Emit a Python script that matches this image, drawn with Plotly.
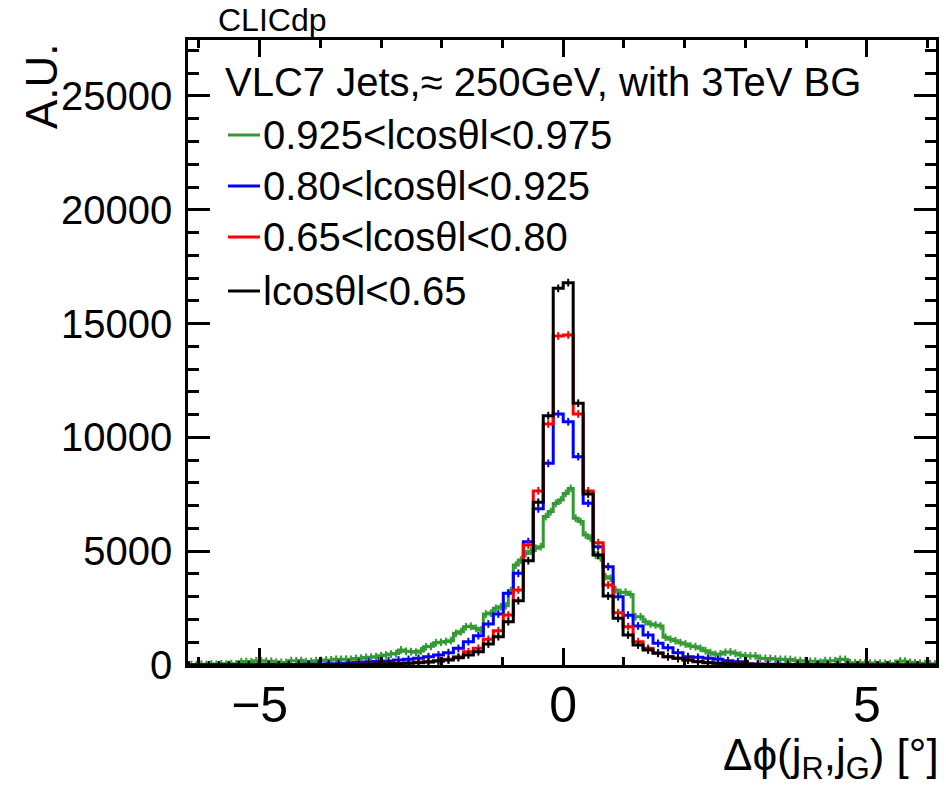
import numpy as np
import plotly.graph_objects as go

# ---------------- data ----------------
BIN_W_COARSE = 0.1644          # degrees, bins of the three coarse histograms
BIN_W_FINE = 0.0822            # degrees, bins of the forward (green) histogram

# |cos(theta)| < 0.65   (bins -38 ... 37)
black_vals = [0, 0, 0, 5, 0, 5, 5, 5, 10, 5, 10, 10, 10, 12,
              12, 15, 20, 25, 30, 40, 50, 60, 80, 103, 132, 176, 220, 322, 439, 586,
              923, 1245, 1904, 2826, 4583, 7149, 10954, 16550,
              16800, 11500, 7514, 4833, 3032, 2050, 1318, 879, 659, 513, 366, 293,
              220, 146, 103, 73, 55, 40, 30, 25, 20, 15, 12, 10, 10,
              8, 5, 5, 5, 5, 0, 5, 0, 0, 0, 0, 0, 0]

# 0.65 < |cos(theta)| < 0.80
red_vals = [0, 0, 5, 0, 5, 5, 5, 10, 5, 10, 10, 12, 12, 15,
            15, 20, 25, 30, 35, 45, 55, 70, 90, 117, 146, 190, 249, 366, 586, 732,
            1128, 1508, 2197, 3300, 5270, 7650, 10590, 14456,
            14500, 11030, 7650, 5375, 3515, 2300, 1684, 1025, 732, 542, 366, 293,
            220, 150, 110, 80, 60, 45, 35, 28, 22, 18, 15, 12, 10,
            8, 8, 5, 5, 5, 5, 0, 5, 0, 0, 0, 0, 0]

# 0.80 < |cos(theta)| < 0.925
blue_vals = [5, 5, 5, 10, 5, 10, 10, 15, 15, 20, 20, 25, 30, 35,
             45, 60, 80, 110, 130, 150, 176, 220, 249, 293, 366, 439, 542, 732, 1025, 1289,
             1802, 2241, 3149, 4030, 5420, 6860, 8860, 11030,
             10690, 9153, 7104, 5200, 4320, 3000, 2190, 1714, 1318, 952, 762, 542,
             366, 337, 293, 249, 190, 146, 60, 45, 35, 30, 25, 20, 15,
             15, 10, 10, 10, 5, 5, 5, 5, 0, 5, 0, 0, 0]

# 0.925 < |cos(theta)| < 0.975   (fine bins -76 ... 75)
green_vals = [10, 20, 15, 30, 20, 40, 30, 50, 40, 60, 50,
              146, 150, 140, 190, 185, 160, 165, 120, 115, 110,
              190, 185, 195, 145, 150, 190, 195, 220, 225, 250,
              245, 255, 250, 290, 300, 335, 340, 365, 410, 440,
              480, 500, 660, 600, 590, 560, 620, 800, 820, 980,
              1000, 1030, 1070, 1390, 1460, 1680, 1700, 1610, 1540, 2240,
              2280, 2490, 2560, 2600, 3270, 4390, 4610, 4900, 5000, 5130,
              5200, 6520, 6740, 7100, 7250, 7540, 7760, 6450, 6300, 5710,
              5570, 4830, 4700, 3880, 3810, 3300, 3180, 3200, 3100, 2120,
              2124, 1904, 1802, 1758, 1714, 1216, 1128, 1069, 981, 923,
              835, 806, 732, 630, 542, 469, 483, 557, 571, 513,
              439, 410, 400, 400, 300, 290, 290, 260, 250, 245,
              240, 200, 190, 160, 160, 165, 117, 190, 190, 185,
              250, 245, 100, 90, 95, 80, 85, 70, 80, 75,
              60, 70, 176, 170, 117, 90, 80, 60, 50, 40, 30]

series_names = ["0.925<lcosθl<0.975", "0.80<lcosθl<0.925",
                "0.65<lcosθl<0.80", "lcosθl<0.65"]
series_colors = ["#339933", "#0000ff", "#ff0000", "#000000"]
legend_header = "VLC7 Jets,≈ 250GeV, with 3TeV BG"
x_tick_vals = [-5, 0, 5]
y_tick_vals = [0, 5000, 10000, 15000, 20000, 25000]

FONT = "Liberation Sans, Arial, Helvetica, sans-serif"

# plot-area geometry in pixels (used for the paper-coordinate text placement)
W, H = 946, 792
PL, PR, PT, PB = 188, 936, 40, 665


def px_x(px):
    return (px - PL) / (PR - PL)


def px_y(py):
    return (PB - py) / (PB - PT)


fig = go.Figure()


def add_hist(vals, width, color, name):
    n = len(vals)
    edges = (np.arange(n + 1) - n / 2) * width
    centers = 0.5 * (edges[:-1] + edges[1:])
    fig.add_trace(go.Scatter(
        x=edges, y=list(vals) + [vals[-1]], mode="lines",
        line=dict(shape="hv", color=color, width=3),
        name=name, showlegend=False, hoverinfo="skip"))
    fig.add_trace(go.Scatter(
        x=centers, y=vals, mode="markers",
        marker=dict(size=1, color=color, opacity=0),
        error_y=dict(type="constant", value=170, color=color,
                     thickness=2, width=0),
        showlegend=False, hoverinfo="skip"))


add_hist(green_vals, BIN_W_FINE, series_colors[0], series_names[0])
add_hist(blue_vals, BIN_W_COARSE, series_colors[1], series_names[1])
add_hist(red_vals, BIN_W_COARSE, series_colors[2], series_names[2])
add_hist(black_vals, BIN_W_COARSE, series_colors[3], series_names[3])

annotations = [
    dict(text="CLICdp", xref="paper", yref="paper",
         x=px_x(216), y=px_y(0), xanchor="left", yanchor="top",
         showarrow=False, font=dict(family=FONT, size=32)),
    dict(text="A.U.", xref="paper", yref="paper", textangle=-90,
         x=px_x(41), y=px_y(41), xanchor="center", yanchor="top",
         showarrow=False, font=dict(family=FONT, size=44)),
    dict(text="Δϕ(j<sub>R</sub>,j<sub>G</sub>) [°]", xref="paper", yref="paper",
         x=px_x(941), y=px_y(728), xanchor="right", yanchor="top",
         showarrow=False, font=dict(family=FONT, size=44)),
    dict(text=legend_header, xref="paper", yref="paper",
         x=px_x(223), y=px_y(82), xanchor="left", yanchor="middle",
         showarrow=False, font=dict(family=FONT, size=40)),
]

# legend entries (key lines + labels)
legend_rows = [135, 186, 237, 291]
shapes = []
for name, color, row in zip(series_names, series_colors, legend_rows):
    shapes.append(dict(type="line", xref="paper", yref="paper",
                       x0=px_x(228), x1=px_x(260), y0=px_y(row), y1=px_y(row),
                       line=dict(color=color, width=3)))
    annotations.append(dict(text=name, xref="paper", yref="paper",
                            x=px_x(261), y=px_y(row), xanchor="left", yanchor="middle",
                            showarrow=False, font=dict(family=FONT, size=40)))

fig.update_layout(
    width=W, height=H,
    margin=dict(l=PL, r=W - PR, t=PT, b=H - PB, autoexpand=False),
    paper_bgcolor="white", plot_bgcolor="white",
    font=dict(family=FONT, color="black", size=40),
    showlegend=False,
    xaxis=dict(
        range=[-6.18, 6.14], tickvals=x_tick_vals, automargin=False,
        ticks="inside", ticklen=17, tickwidth=2.5, tickcolor="black",
        minor=dict(dtick=1, tick0=0, ticks="inside", ticklen=8, tickwidth=2.5, tickcolor="black"),
        showline=True, linewidth=2.5, linecolor="black", mirror="allticks",
        showgrid=False, zeroline=False,
        tickfont=dict(family=FONT, size=50), ticklabelstandoff=-6,
    ),
    yaxis=dict(
        range=[0, 27460], tickvals=y_tick_vals, tickformat="d", automargin=False,
        ticks="inside", ticklen=22, tickwidth=2.5, tickcolor="black",
        minor=dict(dtick=1000, tick0=0, ticks="inside", ticklen=11, tickwidth=2.5, tickcolor="black"),
        showline=True, linewidth=2.5, linecolor="black", mirror="allticks",
        showgrid=False, zeroline=False,
        tickfont=dict(family=FONT, size=40), ticklabelstandoff=5,
    ),
    annotations=annotations,
    shapes=shapes,
)

fig.write_html(
    "out.html",
    config={"displayModeBar": False},
    post_script="document.body.style.margin='0px';document.body.style.padding='0px';",
)
